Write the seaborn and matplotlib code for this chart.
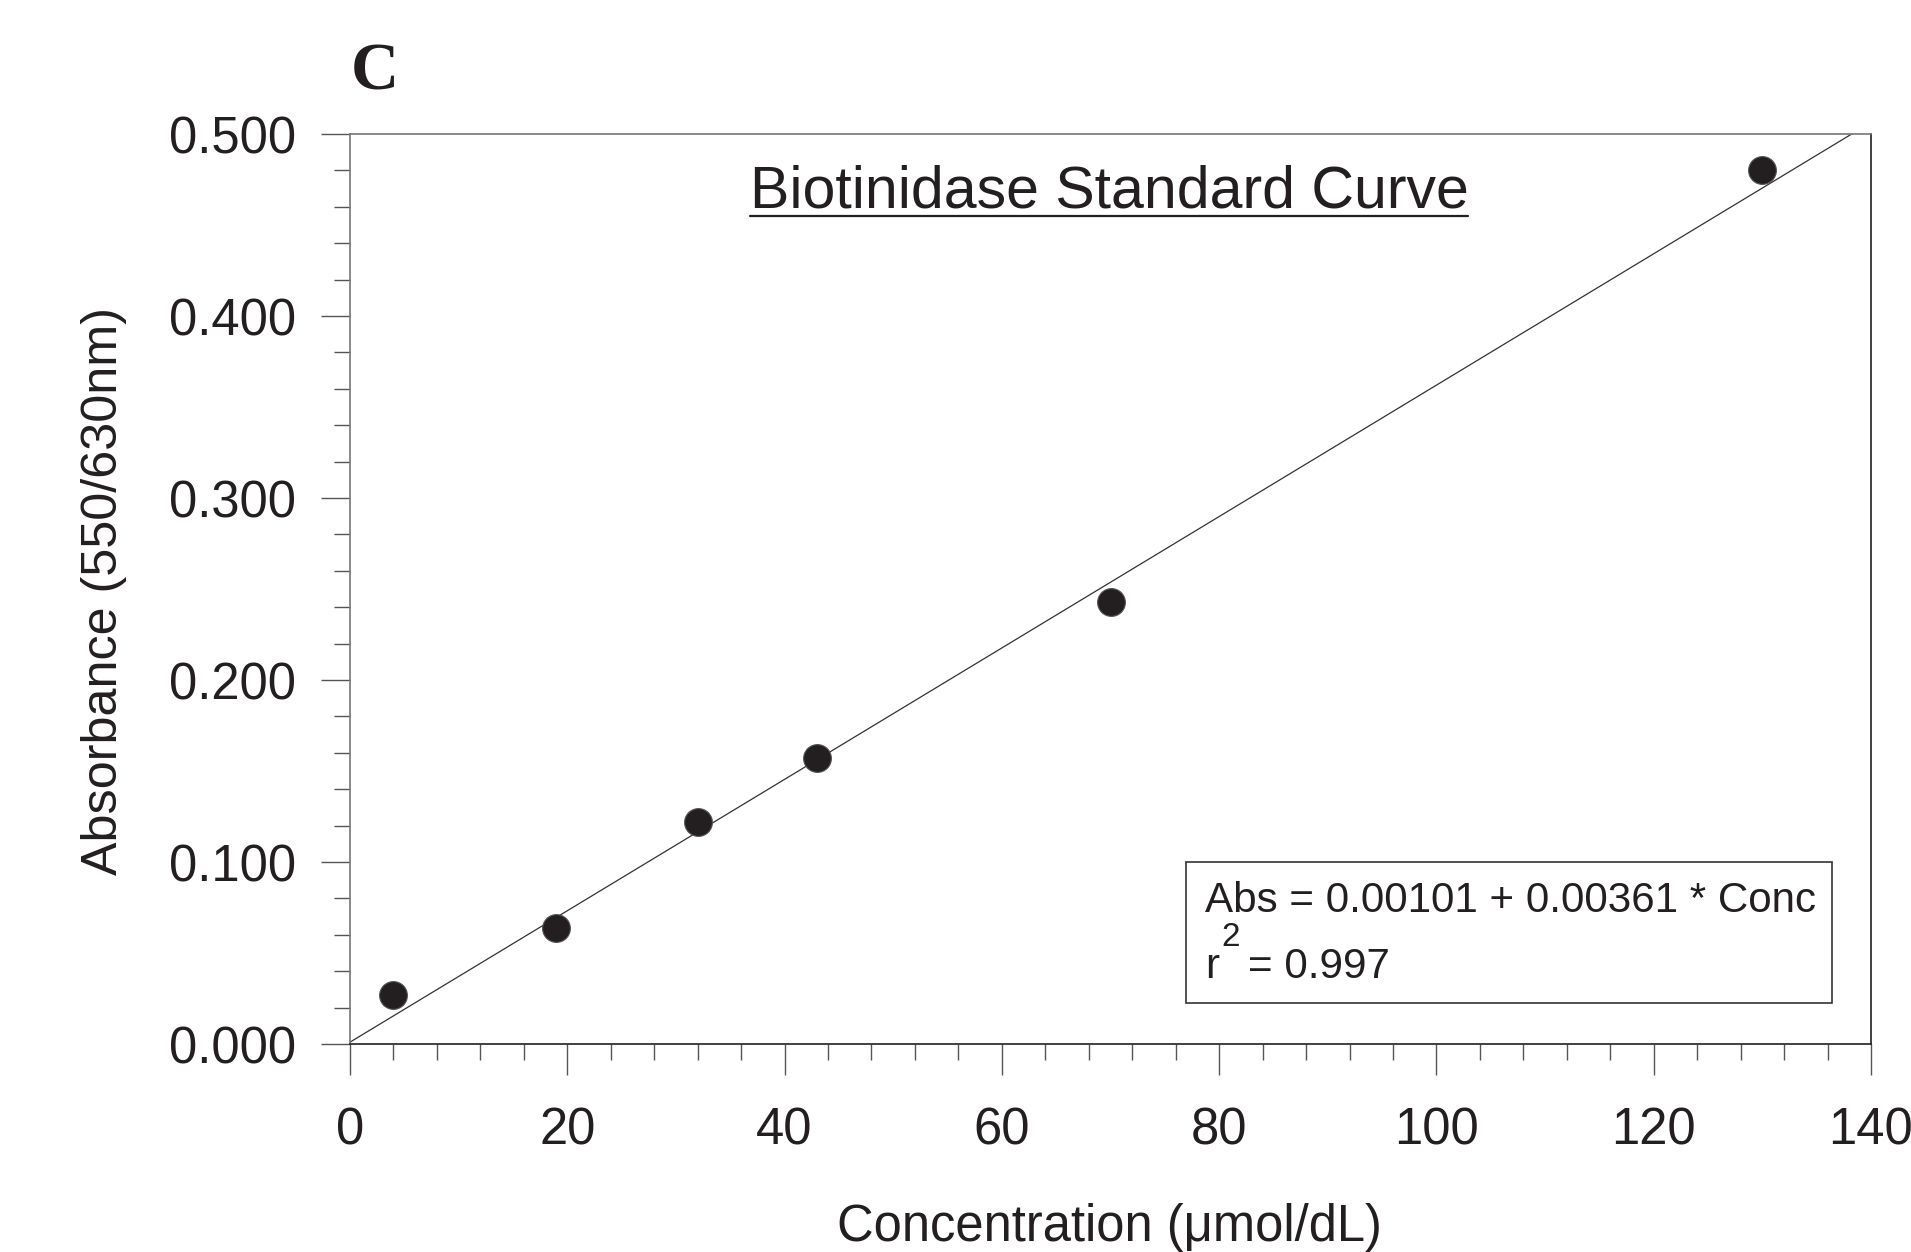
import matplotlib
matplotlib.use("Agg")
import matplotlib.pyplot as plt
import seaborn as sns
import numpy as np
import pandas as pd
from matplotlib.patches import Rectangle
from matplotlib.lines import Line2D
from matplotlib.ticker import MultipleLocator, FormatStrFormatter

# ---- data ----
concentration = [4, 19, 32, 43, 70, 130]
absorbance = [0.027, 0.064, 0.122, 0.157, 0.243, 0.480]
intercept = 0.00101
slope = 0.00361
r_squared = 0.997
x_ticks = [0, 20, 40, 60, 80, 100, 120, 140]
y_ticks = [0.0, 0.1, 0.2, 0.3, 0.4, 0.5]
title = "Biotinidase Standard Curve"
panel = "C"
xlabel = "Concentration (\u03bcmol/dL)"
ylabel = "Absorbance (550/630nm)"

sns.set_style("white")
plt.rcParams['font.family'] = ['Liberation Sans', 'DejaVu Sans']

W, H, DPI = 1911, 1252, 100
fig = plt.figure(figsize=(W / DPI, H / DPI), dpi=DPI)
ax = fig.add_axes([350 / W, 1 - 1044 / H, (1871 - 350) / W, (1044 - 134) / H])

ink = "#231f20"
df = pd.DataFrame({"conc": concentration, "abs": absorbance})
x_end = (max(y_ticks) - intercept) / slope
fit = pd.DataFrame({"conc": [0.0, x_end], "abs": [intercept, intercept + slope * x_end]})

sns.lineplot(data=fit, x="conc", y="abs", ax=ax, color="#333333", linewidth=0.9)
sns.scatterplot(data=df, x="conc", y="abs", ax=ax, s=400, color=ink,
                edgecolor="#555555", linewidth=0.8, zorder=5)

ax.set_xlim(0, 140)
ax.set_ylim(0, 0.5)
ax.set_xticks(x_ticks)
ax.set_yticks(y_ticks)
ax.xaxis.set_minor_locator(MultipleLocator(4))
ax.yaxis.set_minor_locator(MultipleLocator(0.02))
ax.yaxis.set_major_formatter(FormatStrFormatter("%.3f"))

ax.tick_params(axis="both", which="major", direction="out", length=21, width=1.0,
               color="#555555", labelsize=36.5, labelcolor=ink)
ax.tick_params(axis="both", which="minor", direction="out", length=11.5, width=1.0,
               color="#555555")
ax.tick_params(axis="x", which="major", pad=23, length=22)
ax.tick_params(axis="y", which="major", pad=18)
ax.tick_params(left=True, bottom=True, which="both")

for s in ["left", "top"]:
    ax.spines[s].set_color("#777777")
for s in ["bottom", "right"]:
    ax.spines[s].set_color(ink)
for s in ax.spines.values():
    s.set_linewidth(1.2)

ax.set_xlabel("")
ax.set_ylabel("")
fig.text(1109 / W, 1 - 1227 / H, xlabel, ha="center", va="center", fontsize=36.5, color=ink)
fig.text(104 / W, 1 - 591 / H, ylabel, ha="center", va="center", rotation=90,
         fontsize=36.2, color=ink)

# panel letter
fig.text(375 / W, 1 - 73 / H, panel, ha="center", va="center", fontsize=48,
         fontweight="bold", family=["Liberation Serif", "DejaVu Serif"], color=ink)

# underlined title
t = fig.text(1109 / W, 1 - 192 / H, title, ha="center", va="center", fontsize=42.5, color=ink)
fig.canvas.draw()
bb = t.get_window_extent(renderer=fig.canvas.get_renderer())
uy = 1 - 216 / H
fig.add_artist(Line2D([bb.x0 / W, bb.x1 / W], [uy, uy], transform=fig.transFigure,
                      color=ink, linewidth=1.6))

# equation box
fig.add_artist(Rectangle((1186 / W, 1 - 1003 / H), (1832 - 1186) / W, (1003 - 862) / H,
                         transform=fig.transFigure, fill=False, edgecolor="#333333",
                         linewidth=1.2))
fig.text(1205 / W, 1 - 901 / H, f"Abs = {intercept:.5f} + {slope:.5f} * Conc",
         ha="left", va="center", fontsize=30.3, color=ink)
fig.text(1205 / W, 1 - 967 / H, "r", ha="left", va="center", fontsize=30.3, color=ink)
fig.text(1221 / W, 1 - 937 / H, "2", ha="left", va="center", fontsize=24, color=ink)
fig.text(1248 / W, 1 - 967 / H, f"= {r_squared:.3f}", ha="left", va="center",
         fontsize=30.3, color=ink)

fig.savefig("out.png", dpi=DPI)
